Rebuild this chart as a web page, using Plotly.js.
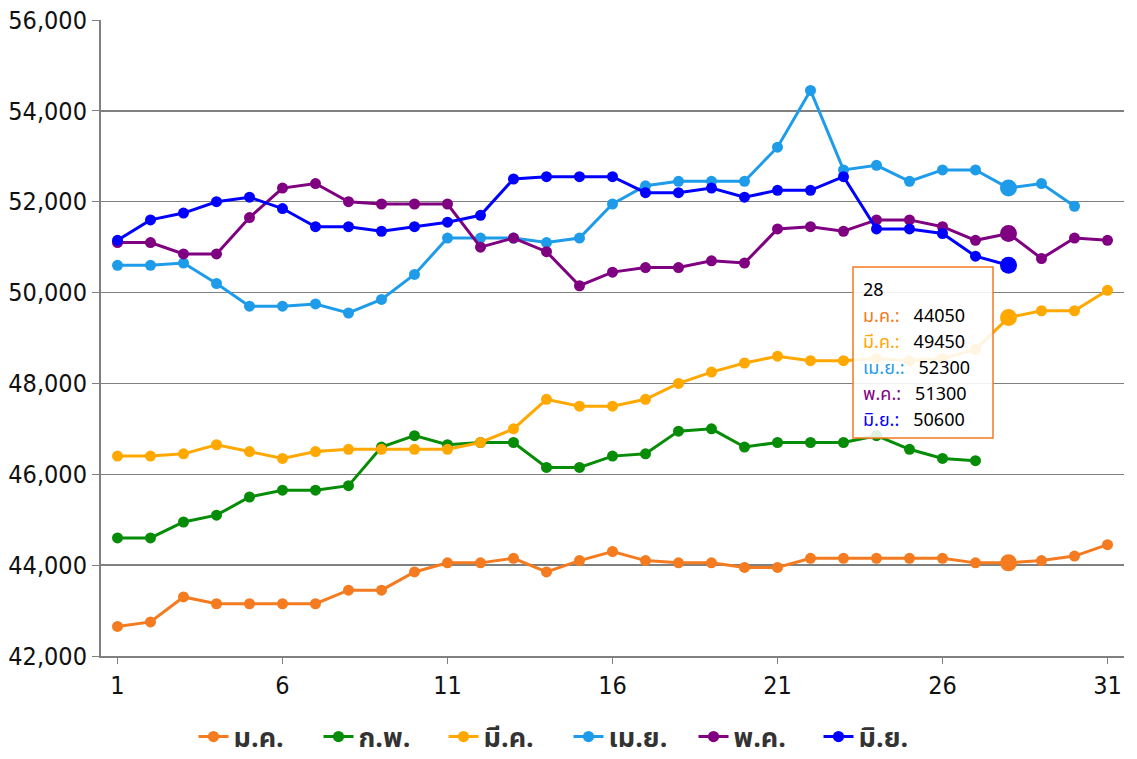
<!DOCTYPE html>
<html>
<head>
<meta charset="utf-8">
<script src="https://cdn.plot.ly/plotly-3.0.1.min.js"></script>
<style>
  html, body { margin: 0; padding: 0; background: #ffffff; }
  #chart { width: 1137px; height: 759px; }
</style>
</head>
<body>
<div id="chart"></div>
<script>
// Daily prices, day 1..31, one array per month (null = no price that day)
const days = Array.from({length: 31}, (_, i) => i + 1);

const monthNames = ['ม.ค.', 'ก.พ.', 'มี.ค.', 'เม.ย.', 'พ.ค.', 'มิ.ย.'];

const jan = [42650, 42750, 43300, 43150, 43150, 43150, 43150, 43450, 43450, 43850,
             44050, 44050, 44150, 43850, 44100, 44300, 44100, 44050, 44050, 43950,
             43950, 44150, 44150, 44150, 44150, 44150, 44050, 44050, 44100, 44200, 44450];

const feb = [44600, 44600, 44950, 45100, 45500, 45650, 45650, 45750, 46600, 46850,
             46650, 46700, 46700, 46150, 46150, 46400, 46450, 46950, 47000, 46600,
             46700, 46700, 46700, 46850, 46550, 46350, 46300, null, null, null, null];

const mar = [46400, 46400, 46450, 46650, 46500, 46350, 46500, 46550, 46550, 46550,
             46550, 46700, 47000, 47650, 47500, 47500, 47650, 48000, 48250, 48450,
             48600, 48500, 48500, 48550, 48500, 48550, 48750, 49450, 49600, 49600, 50050];

const apr = [50600, 50600, 50650, 50200, 49700, 49700, 49750, 49550, 49850, 50400,
             51200, 51200, 51200, 51100, 51200, 51950, 52350, 52450, 52450, 52450,
             53200, 54450, 52700, 52800, 52450, 52700, 52700, 52300, 52400, 51900, null];

const may = [51100, 51100, 50850, 50850, 51650, 52300, 52400, 52000, 51950, 51950,
             51950, 51000, 51200, 50900, 50150, 50450, 50550, 50550, 50700, 50650,
             51400, 51450, 51350, 51600, 51600, 51450, 51150, 51300, 50750, 51200, 51150];

const jun = [51150, 51600, 51750, 52000, 52100, 51850, 51450, 51450, 51350, 51450,
             51550, 51700, 52500, 52550, 52550, 52550, 52200, 52200, 52300, 52100,
             52250, 52250, 52550, 51400, 51400, 51300, 50800, 50600, null, null, null];

const seriesValues = [jan, feb, mar, apr, may, jun];
const seriesColors = ['#f47b20', '#078c07', '#ffa800', '#1f9ce9', '#7f0080', '#0000ff'];

const yTicks = [42000, 44000, 46000, 48000, 50000, 52000, 54000, 56000];
const xTicks = [1, 6, 11, 16, 21, 26, 31];

// Highlighted day (the one shown in the info box)
const focusDay = 28;

const TICK_FONT = "'DejaVu Sans Condensed', 'DejaVu Sans', sans-serif";
const THAI_FONT = "Tahoma, 'Noto Sans Thai', 'Noto Sans', 'DejaVu Sans', sans-serif";

const traces = seriesValues.map((vals, i) => ({
  type: 'scatter',
  mode: 'lines+markers',
  name: monthNames[i],
  x: days,
  y: vals,
  line: {color: seriesColors[i], width: 3},
  marker: {
    color: seriesColors[i],
    opacity: 1,
    line: {width: 0},
    size: days.map(d => d === focusDay ? 17 : 11)
  },
  connectgaps: false,
  hoverinfo: 'skip'
}));

// Info box for the focused day: a framed box with one text line per month
const idx = focusDay - 1;
const boxLeft = 853, boxTop = 267, boxRight = 993, boxBottom = 438;
const plotL = 101, plotT = 20, plotW = 1023, plotH = 636;
const px = v => (v - plotL) / plotW;
const py = v => 1 - (v - plotT) / plotH;

const boxRows = [{text: String(focusDay)}];
seriesValues.forEach((vals, i) => {
  if (vals[idx] !== null && vals[idx] !== undefined) {
    boxRows.push({
      text: '<span style="color:' + seriesColors[i] + '">' + monthNames[i] + ':</span>&nbsp;&nbsp;&nbsp;' + vals[idx]
    });
  }
});

const annotations = boxRows.map((row, k) => ({
  xref: 'paper', yref: 'paper',
  x: px(boxLeft + 9), y: py(290 + 26 * k),
  xanchor: 'left', yanchor: 'middle',
  showarrow: false,
  align: 'left',
  borderpad: 0,
  text: row.text,
  font: {size: 18, color: '#000000', family: THAI_FONT}
}));

const layout = {
  width: 1137,
  height: 759,
  margin: {l: 101, r: 13, t: 20, b: 103},
  paper_bgcolor: '#ffffff',
  plot_bgcolor: '#ffffff',
  font: {family: THAI_FONT, color: '#222222'},
  showlegend: true,
  legend: {
    orientation: 'h',
    x: 0.5,
    xanchor: 'center',
    xref: 'container',
    yref: 'container',
    y: 1 - 737 / 759,
    yanchor: 'middle',
    font: {size: 27, color: '#333333', family: THAI_FONT, weight: 'bold'},
    itemwidth: 30,
    entrywidth: 80,
    entrywidthmode: 'pixels',
    traceorder: 'normal'
  },
  xaxis: {
    range: [0.5, 31.5],
    tickvals: xTicks,
    ticktext: xTicks.map(String),
    showgrid: false,
    zeroline: false,
    showline: true,
    linecolor: '#808080',
    linewidth: 2,
    ticks: 'outside',
    ticklen: 6,
    tickcolor: '#808080',
    tickfont: {size: 25, color: '#111111', family: TICK_FONT}
  },
  yaxis: {
    range: [42000, 56000],
    tickvals: yTicks,
    tickformat: ',d',
    showgrid: true,
    gridcolor: '#808080',
    gridwidth: 1.5,
    zeroline: false,
    showline: true,
    linecolor: '#808080',
    linewidth: 2,
    ticks: 'outside',
    ticklen: 7,
    tickcolor: '#808080',
    tickfont: {size: 25, color: '#111111', family: TICK_FONT}
  },
  shapes: [{
    type: 'rect',
    xref: 'paper', yref: 'paper',
    x0: px(boxLeft), x1: px(boxRight),
    y0: py(boxBottom), y1: py(boxTop),
    fillcolor: 'rgba(255,255,255,0.88)',
    line: {color: '#f47b20', width: 1.5},
    layer: 'above'
  }],
  annotations: annotations
};

Plotly.newPlot('chart', traces, layout, {displayModeBar: false, staticPlot: true});
</script>
</body>
</html>
